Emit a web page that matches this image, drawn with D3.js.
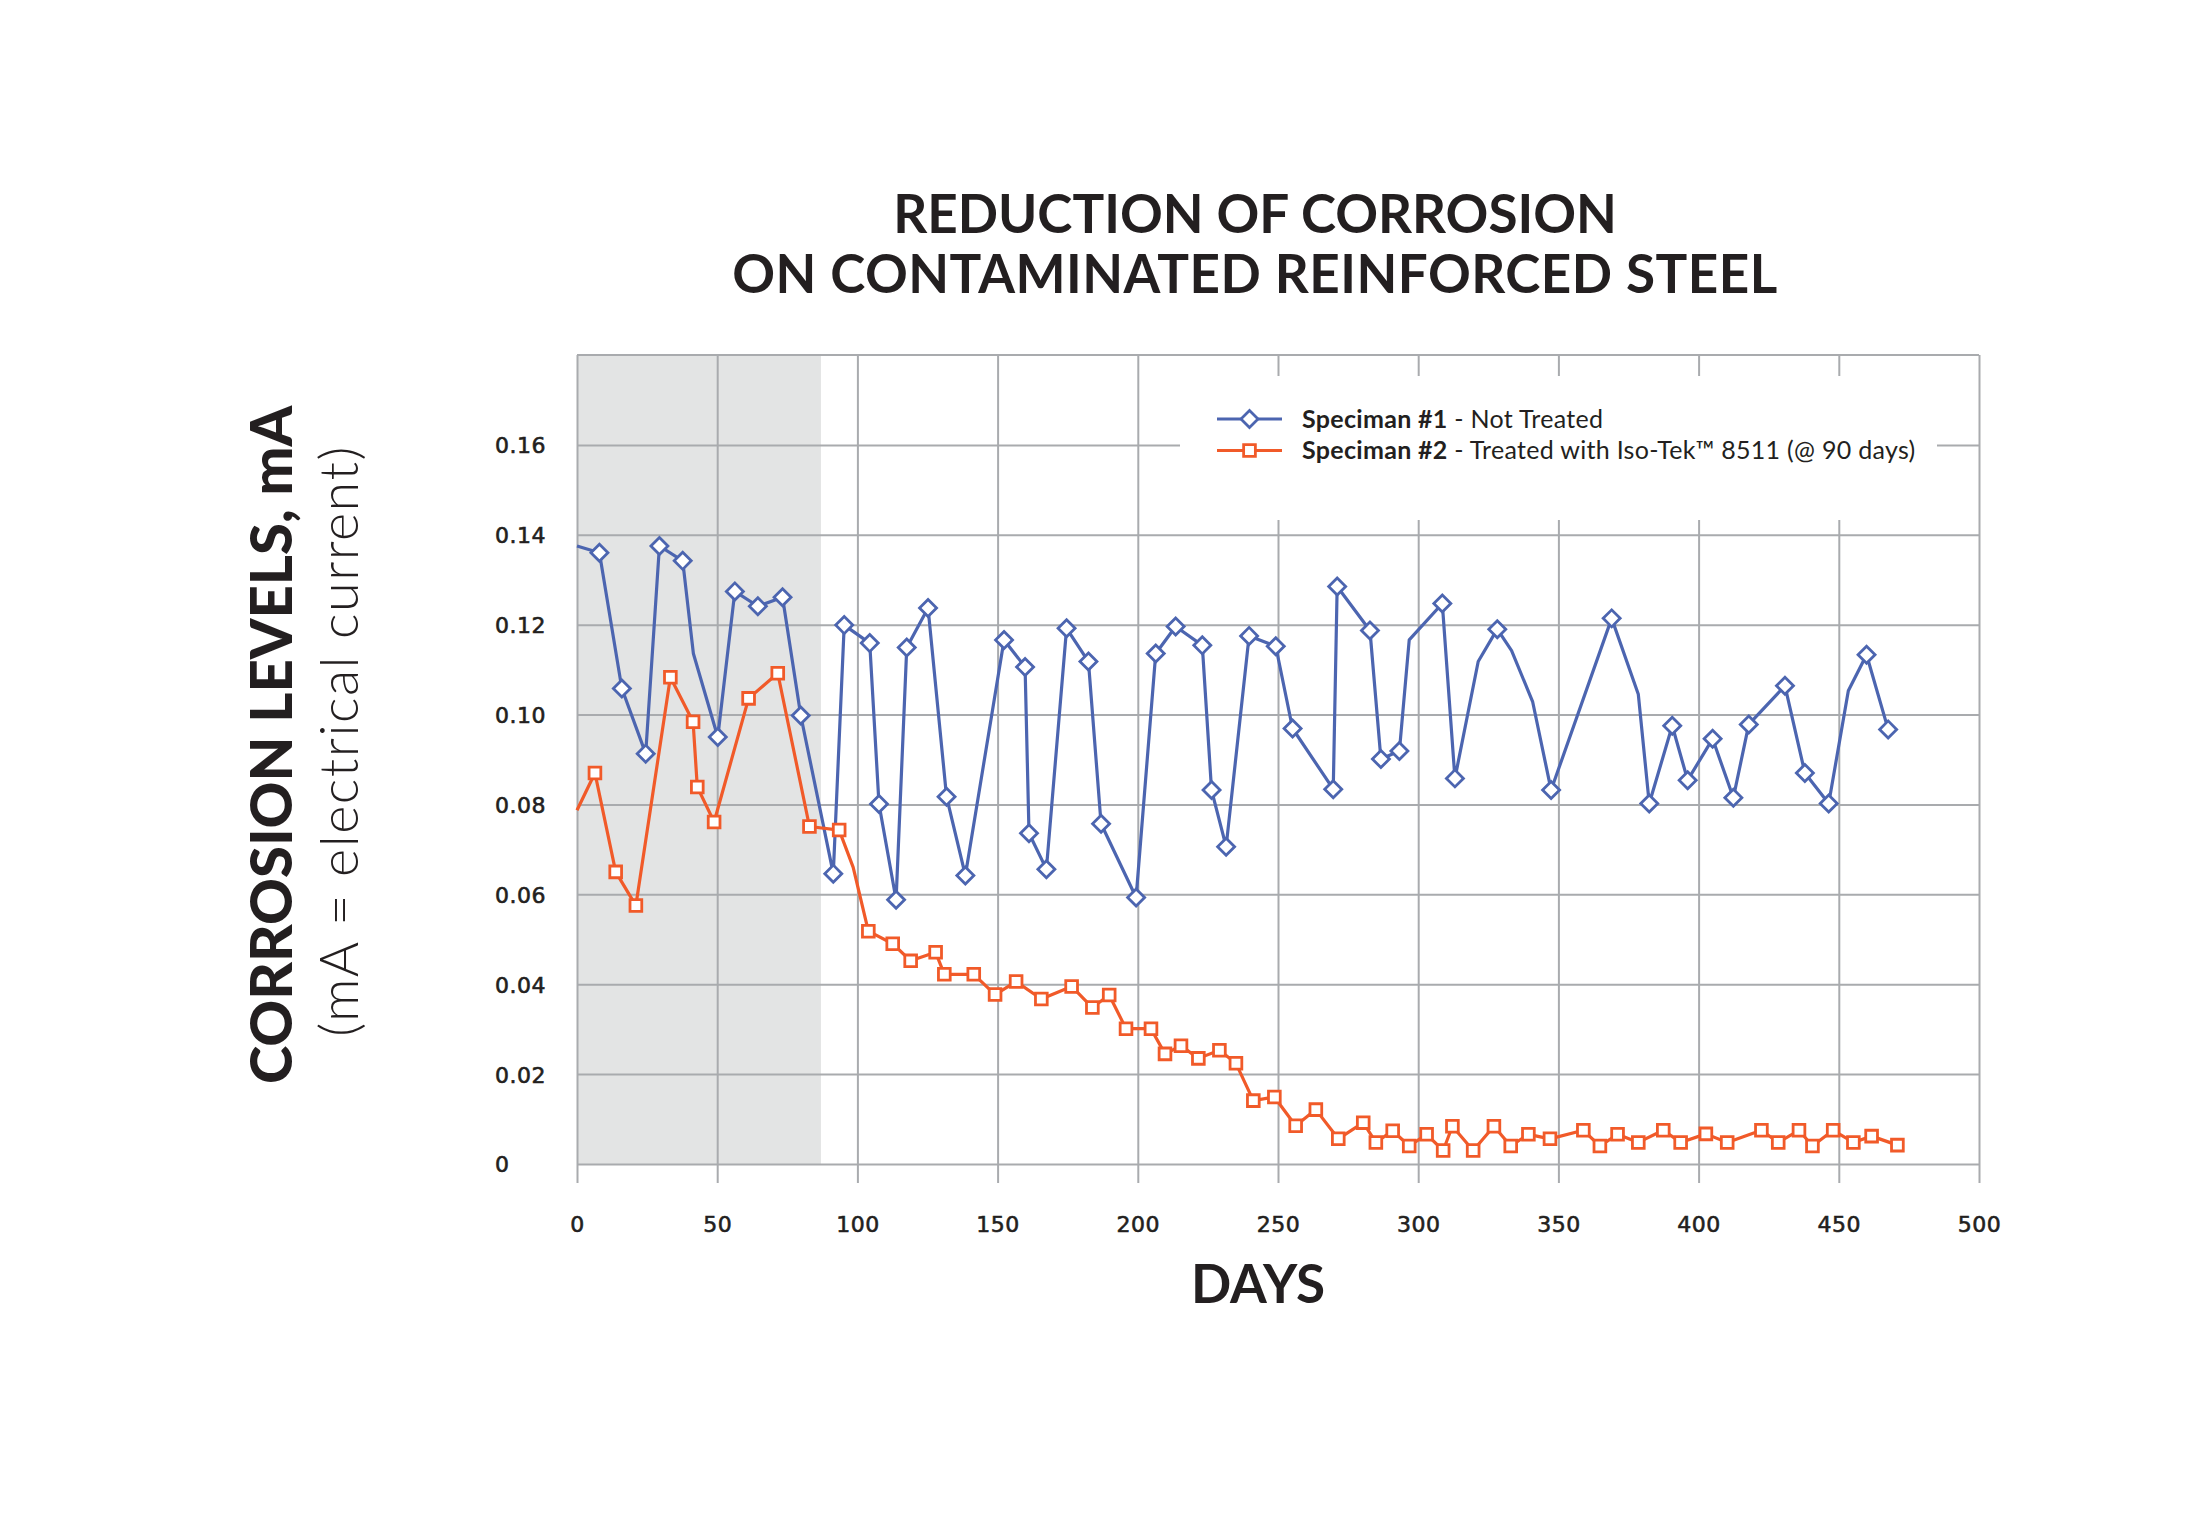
<!DOCTYPE html>
<html>
<head>
<meta charset="utf-8">
<script src="https://cdn.jsdelivr.net/npm/d3@7"></script>
<style>
  body { margin: 0; background: #fff; }
  text { fill: #231f20; }
</style>
</head>
<body>
<div id="chart"></div>
<script>
// values
var days1 = [0, 8, 16, 24.5, 29.4, 37.7, 41.5, 50.2, 56.3, 64.5, 73.3, 79.8, 91.4, 95.3,
  104.4, 107.7, 113.8, 117.6, 125.2, 131.8, 138.5, 152.3, 159.8, 161.2, 167.4, 174.6,
  182.4, 186.9, 199.4, 206.4, 213.5, 223, 226.3, 231.5, 239.7, 249.2, 255.2, 269.7,
  271.1, 282.8, 286.7, 293.3, 296.8, 308.6, 313.1, 321.4, 328.2, 333.3, 340.8, 347.4,
  369, 378.5, 382.4, 390.6, 396.1, 405, 412.4, 417.9, 430.8, 437.9, 446.4, 453.4,
  459.9, 467.6];
var levels1 = [0.1375, 0.136, 0.1058, 0.0913, 0.1375, 0.1342, 0.1136, 0.095, 0.1274,
  0.1241, 0.1261, 0.0998, 0.0646, 0.1199, 0.1159, 0.0801, 0.0588, 0.1149, 0.1237,
  0.0817, 0.0642, 0.1166, 0.1106, 0.0736, 0.0656, 0.1192, 0.1118, 0.0757, 0.0593,
  0.1136, 0.1196, 0.1154, 0.0832, 0.0706, 0.1175, 0.1152, 0.0969, 0.0834, 0.1285,
  0.1187, 0.0901, 0.0919, 0.1166, 0.1247, 0.0858, 0.1118, 0.119, 0.1142, 0.1029,
  0.0832, 0.1214, 0.1045, 0.0802, 0.0975, 0.0854, 0.0946, 0.0815, 0.0978, 0.1064,
  0.087, 0.0802, 0.1053, 0.1133, 0.0967];
// line bends that carry no marker
var bends1 = [0, 41.5, 296.8, 321.4, 333.3, 340.8, 378.5, 453.4];

var days2 = [0, 6.4, 13.8, 21, 33.3, 41.4, 42.9, 48.9, 61.2, 71.6, 82.9, 93.5, 98.5,
  103.9, 112.6, 119, 127.9, 131, 141.5, 149.1, 156.6, 165.6, 176.4, 183.8, 189.8,
  195.8, 204.7, 209.7, 215.4, 221.6, 229.1, 235, 241.2, 248.7, 256.3, 263.5, 271.5,
  280.4, 284.9, 290.9, 296.8, 303, 308.9, 312.2, 319.6, 327, 333, 339.3, 347, 358.9,
  364.8, 371.1, 378.5, 387.4, 393.6, 402.6, 410.2, 422.4, 428.4, 435.8, 440.6, 448,
  455.2, 461.7, 470.9];
var levels2 = [0.0787, 0.087, 0.065, 0.0575, 0.1083, 0.0984, 0.0839, 0.0761, 0.1036,
  0.1092, 0.0751, 0.0743, 0.066, 0.0518, 0.049, 0.0452, 0.0471, 0.0422, 0.0422,
  0.0377, 0.0406, 0.0367, 0.0395, 0.0348, 0.0376, 0.0301, 0.0301, 0.0245, 0.0263,
  0.0235, 0.0253, 0.0224, 0.0141, 0.0149, 0.0085, 0.0121, 0.0056, 0.0092, 0.0048,
  0.0074, 0.004, 0.0066, 0.003, 0.0084, 0.003, 0.0084, 0.004, 0.0066, 0.0056, 0.0075,
  0.004, 0.0066, 0.0048, 0.0075, 0.0048, 0.0067, 0.0048, 0.0075, 0.0048, 0.0075,
  0.004, 0.0075, 0.0048, 0.0062, 0.0042];
var bends2 = [0, 98.5];

var xTicks = [0, 50, 100, 150, 200, 250, 300, 350, 400, 450, 500];
var yTicks = [0, 0.02, 0.04, 0.06, 0.08, 0.1, 0.12, 0.14, 0.16];
var yMax = 0.18;
var shadeEnd = 87; // untreated period shown in grey

var titleLines = ["REDUCTION OF CORROSION", "ON CONTAMINATED REINFORCED STEEL"];
var legendBold = ["Speciman #1", "Speciman #2"];
var legendRest = [" - Not Treated", " - Treated with Iso-Tek\u2122 8511 (@ 90 days)"];

var blue = "#4c65b0";
var orange = "#f15a29";
var gridColor = "#a9abae";

var margin = { top: 355, right: 216, bottom: 351, left: 577 };
var width = 2195 - margin.left - margin.right;
var height = 1515 - margin.top - margin.bottom;

var svg = d3
  .select("#chart")
  .append("svg")
  .attr("width", 2195)
  .attr("height", 1515)
  .style("display", "block");

var g = svg
  .append("g")
  .attr("transform", "translate(" + margin.left + "," + margin.top + ")");

// scales
var x = d3.scaleLinear().domain([0, 500]).range([0, width]);
var y = d3.scaleLinear().domain([0, yMax]).range([height, 0]);

// grey band
g.append("rect")
  .attr("x", x(0))
  .attr("y", y(yMax))
  .attr("width", x(shadeEnd) - x(0))
  .attr("height", y(0) - y(yMax))
  .attr("fill", "#e3e4e4");

// tick label look shared by both axes
function styleTickText(sel) {
  sel
    .style("font-family", "'DejaVu Sans', sans-serif")
    .style("font-size", "22px")
    .style("font-weight", 400)
    .style("letter-spacing", "0.5px")
    .style("fill", "#231f20")
    .style("stroke", "#231f20")
    .style("stroke-width", 0.6);
}

// x axis + vertical grid
var xAxis = g
  .append("g")
  .attr("class", "x-axis")
  .attr("transform", "translate(0," + height + ")")
  .call(d3.axisBottom(x).tickValues(xTicks).tickSize(0).tickFormat(d3.format("d")));
xAxis.select(".domain").remove();
xAxis
  .selectAll(".tick line")
  .attr("y1", 19)
  .attr("y2", -height)
  .attr("stroke", gridColor)
  .attr("stroke-width", 2);
xAxis
  .selectAll(".tick text")
  .attr("y", 60)
  .attr("dy", "0.36em")
  .call(styleTickText);

// y axis + horizontal grid
var yAxis = g
  .append("g")
  .attr("class", "y-axis")
  .call(
    d3.axisLeft(y)
      .tickValues(yTicks)
      .tickSize(0)
      .tickFormat(function (d) {
        return d === 0 ? "0" : d3.format(".2f")(d);
      })
  );
yAxis.select(".domain").remove();
yAxis
  .selectAll(".tick line")
  .attr("x1", 0)
  .attr("x2", width)
  .attr("stroke", gridColor)
  .attr("stroke-width", 2);
yAxis
  .selectAll(".tick text")
  .attr("x", -82)
  .attr("dy", "0.36em")
  .attr("text-anchor", "start")
  .call(styleTickText);

// top border
g.append("line")
  .attr("x1", 0)
  .attr("x2", width)
  .attr("y1", y(yMax))
  .attr("y2", y(yMax))
  .attr("stroke", gridColor)
  .attr("stroke-width", 2);

// legend box hides the grid behind it
g.append("rect")
  .attr("x", 603)
  .attr("y", 21)
  .attr("width", 757)
  .attr("height", 144)
  .attr("fill", "#fff");

// series
var series = [
  { days: days1, levels: levels1, bends: bends1, color: blue, shape: "diamond" },
  { days: days2, levels: levels2, bends: bends2, color: orange, shape: "square" },
];

var line = d3
  .line()
  .x(function (d) { return x(d[0]); })
  .y(function (d) { return y(d[1]); });

var diamond = d3.symbol().type(d3.symbolSquare).size(145);
var square = d3.symbol().type(d3.symbolSquare).size(138);

function drawMarker(sel, shape, color) {
  sel
    .append("path")
    .attr("d", shape === "diamond" ? diamond() : square())
    .attr("transform", function (d) {
      return "translate(" + d.px + "," + d.py + ")" + (shape === "diamond" ? " rotate(45)" : "");
    })
    .attr("fill", "#fff")
    .attr("stroke", color)
    .attr("stroke-width", 2.8);
}

series.forEach(function (s) {
  var pts = d3.zip(s.days, s.levels);

  g.append("path")
    .datum(pts)
    .attr("fill", "none")
    .attr("stroke", s.color)
    .attr("stroke-width", 3.2)
    .attr("stroke-linejoin", "round")
    .attr("d", line);

  var marked = pts
    .filter(function (p) { return s.bends.indexOf(p[0]) < 0; })
    .map(function (p) { return { px: x(p[0]), py: y(p[1]) }; });

  var m = g.append("g").selectAll("g").data(marked).enter().append("g");
  drawMarker(m, s.shape, s.color);
});

// legend
var legend = g.append("g").attr("transform", "translate(640,64)");
series.forEach(function (s, i) {
  var row = legend.append("g").attr("transform", "translate(0," + i * 31.5 + ")");
  row.append("line")
    .attr("x1", 0)
    .attr("x2", 65)
    .attr("stroke", s.color)
    .attr("stroke-width", 3);
  drawMarker(row.selectAll("g").data([{ px: 32.5, py: 0 }]).enter().append("g"), s.shape, s.color);
  var t = row.append("text")
    .attr("x", 85)
    .attr("dy", "0.35em")
    .style("font-family", "Lato, sans-serif")
    .style("font-size", "25px")
    .style("letter-spacing", "0.3px");
  t.append("tspan").style("font-weight", 700).text(legendBold[i]);
  t.append("tspan").style("font-weight", 400).text(legendRest[i]);
});

// title
svg.append("g")
  .selectAll("text")
  .data(titleLines)
  .enter()
  .append("text")
  .attr("x", 1255)
  .attr("y", function (d, i) { return 233 + i * 60; })
  .attr("text-anchor", "middle")
  .style("font-family", "Lato, sans-serif")
  .style("font-weight", 700)
  .style("font-size", "53px")
  .style("letter-spacing", function (d, i) { return i ? "0.5px" : "0px"; })
  .text(function (d) { return d; });

// x label
svg.append("text")
  .attr("x", 1258)
  .attr("y", 1303)
  .attr("text-anchor", "middle")
  .style("font-family", "Lato, sans-serif")
  .style("font-weight", 700)
  .style("font-size", "53px")
  .text("DAYS");

// y labels
svg.append("text")
  .attr("transform", "translate(292,745) rotate(-90)")
  .attr("text-anchor", "middle")
  .style("font-family", "Lato, sans-serif")
  .style("font-weight", 900)
  .style("font-size", "58px")
  .text("CORROSION LEVELS, mA");

svg.append("text")
  .attr("transform", "translate(358,741) rotate(-90)")
  .attr("text-anchor", "middle")
  .style("font-family", "Lato, sans-serif")
  .style("font-weight", 300)
  .style("font-size", "54px")
  .style("letter-spacing", "1.5px")
  .text("(mA = electrical current)");
</script>
</body>
</html>
